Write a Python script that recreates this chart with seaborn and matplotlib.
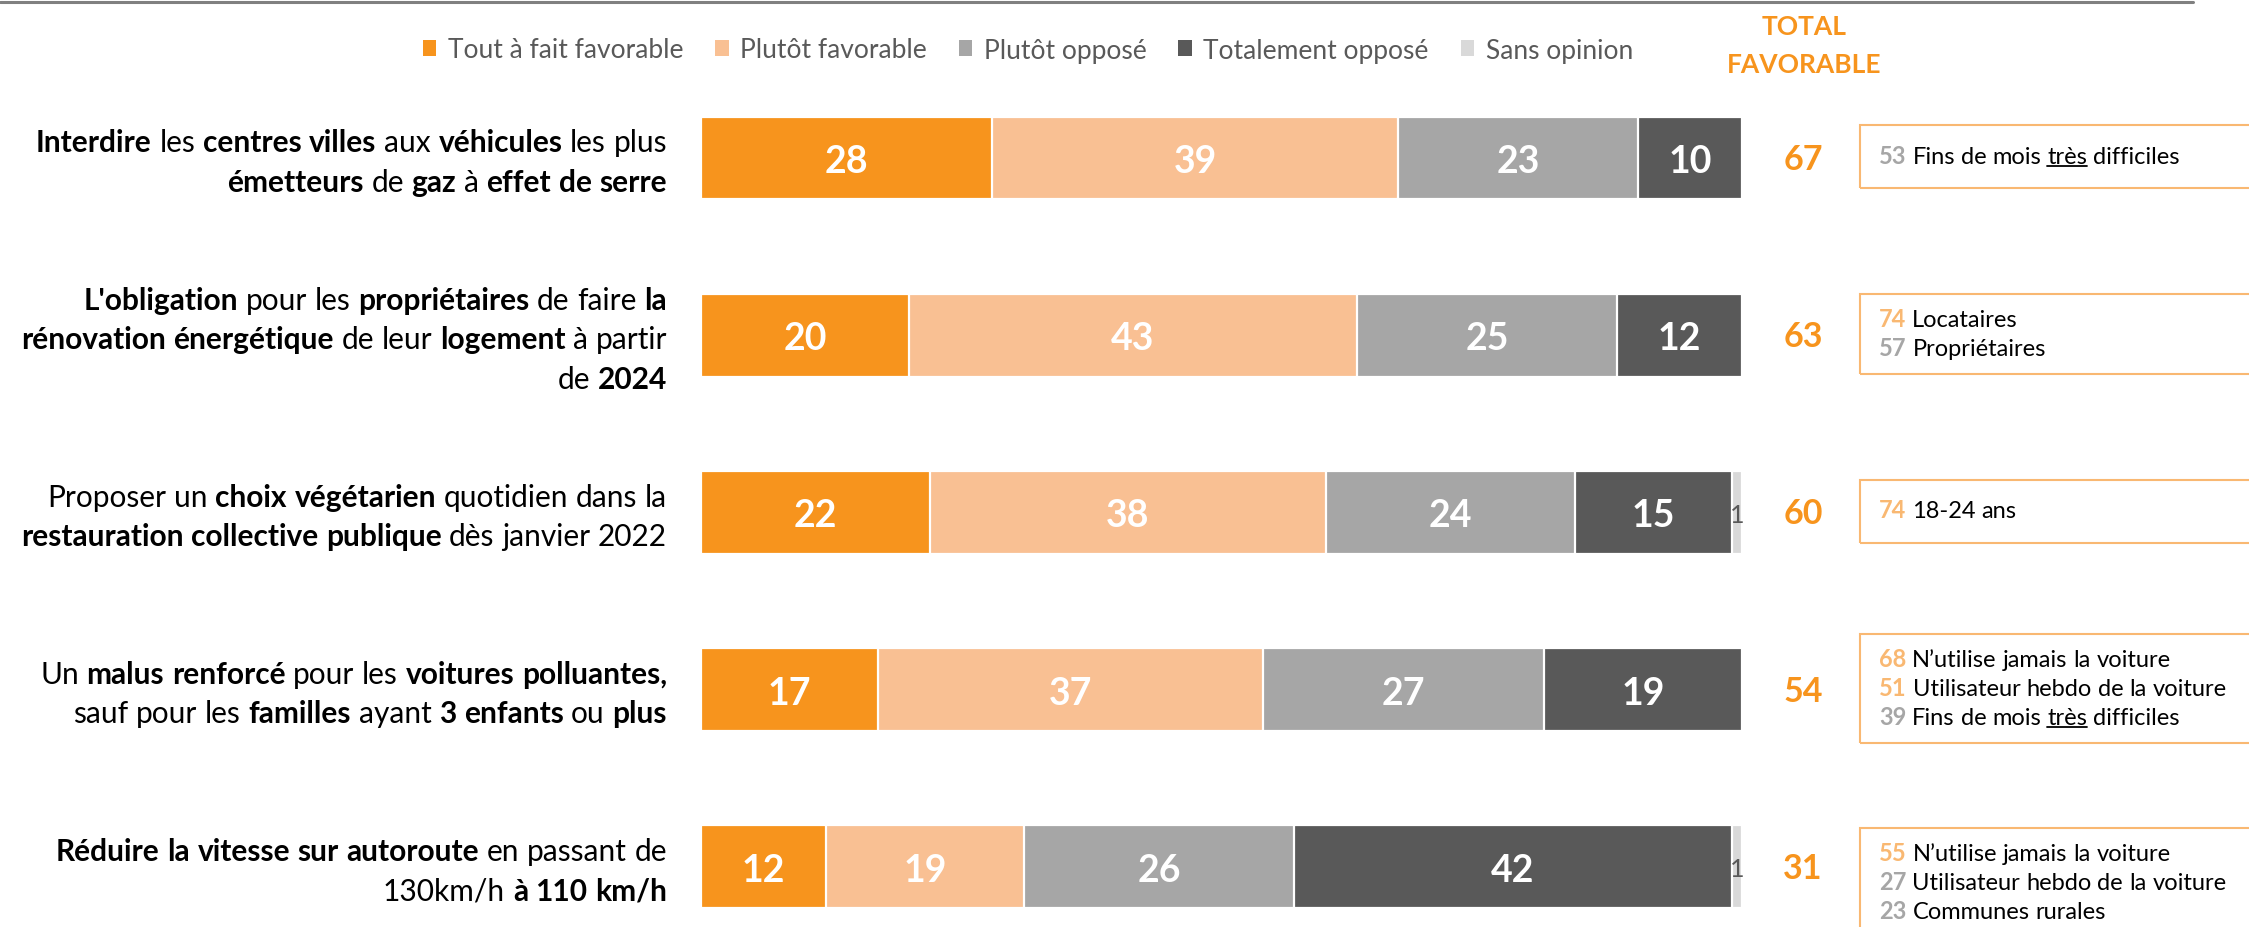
import re
import pandas as pd
import numpy as np

import matplotlib
matplotlib.use("Agg")
import matplotlib.pyplot as plt
import seaborn as sns
from matplotlib.patches import Patch, Rectangle
from matplotlib.lines import Line2D
from matplotlib.transforms import IdentityTransform


# ############################ -- DATA -- ############################
questions = ["Q1", "Q2", "Q3", "Q4", "Q5"]
# ** marks the bold words of each label line
question_labels = [
    ["**Interdire** les **centres villes** aux **véhicules** les plus",
     "**émetteurs** de **gaz** à **effet de serre**"],
    ["**L'obligation** pour les **propriétaires** de faire **la**",
     "**rénovation énergétique** de leur **logement** à partir",
     "de **2024**"],
    ["Proposer un **choix végétarien** quotidien dans la",
     "**restauration collective publique** dès janvier 2022"],
    ["Un **malus renforcé** pour les **voitures polluantes,**",
     "sauf pour les **familles** ayant **3 enfants** ou **plus**"],
    ["**Réduire la vitesse sur autoroute** en passant de",
     "130km/h **à 110 km/h**"],
]

answers = ["Tout à fait favorable", "Plutôt favorable", "Plutôt opposé",
           "Totalement opposé", "Sans opinion"]
tout_a_fait_favorable = [28, 20, 22, 17, 12]
plutot_favorable = [39, 43, 38, 37, 19]
plutot_oppose = [23, 25, 24, 27, 26]
totalement_oppose = [10, 12, 15, 19, 42]
sans_opinion = [0, 0, 1, 0, 1]
total_favorable = [67, 63, 60, 54, 31]

# sub-group boxes on the right (__ marks underlined words)
box_scores = [[53], [74, 57], [74], [68, 51, 39], [55, 27, 23]]
box_above = [[False], [True, False], [True], [True, True, False], [True, False, False]]
box_texts = [["Fins de mois __très__ difficiles"],
             ["Locataires", "Propriétaires"],
             ["18-24 ans"],
             ["N’utilise jamais la voiture", "Utilisateur hebdo de la voiture",
              "Fins de mois __très__ difficiles"],
             ["N’utilise jamais la voiture", "Utilisateur hebdo de  la voiture",
              "Communes rurales"]]

colors = ["#F7941D", "#F9C093", "#A6A6A6", "#595959", "#D9D9D9"]
ORANGE = "#F7941D"
PEACH = "#F9B872"
GREY_NUM = "#A6A6A6"

# ############################ -- LAYOUT -- ############################
W, H = 2249, 928
sns.set_theme(style="white")
plt.rcParams["font.family"] = ["Lato", "DejaVu Sans"]

fig = plt.figure(figsize=(W / 100, H / 100), dpi=100)
ax = fig.add_axes([701 / W, 0, 1041 / W, 1 - 70.4 / H])

# Build the table and the cumulative sums for the stacked bars
df = pd.DataFrame({"question": questions,
                   answers[0]: tout_a_fait_favorable,
                   answers[1]: plutot_favorable,
                   answers[2]: plutot_oppose,
                   answers[3]: totalement_oppose,
                   answers[4]: sans_opinion})
cum = df[answers].cumsum(axis=1)
cum["question"] = questions

# Paint the longest (cumulated) bars first, the shorter ones on top
for answer, color in reversed(list(zip(answers, colors))):
    sns.barplot(data=cum, x=answer, y="question", order=questions, orient="h",
                color=color, saturation=1, width=0.468,
                edgecolor="white", linewidth=1.6, ax=ax)

ax.set_xlim(0, 100)
ax.set_ylim(4.34, -0.5)
ax.axis("off")

# values in the segments
for i in range(len(questions)):
    left = 0
    for j, answer in enumerate(answers):
        v = df.loc[i, answer]
        if v > 0:
            if answer == "Sans opinion":
                ax.text(left + v / 2, i, str(v), ha="center", va="center_baseline",
                        color="#595959", fontsize=18)
            else:
                ax.text(left + v / 2, i, str(v), ha="center", va="center_baseline",
                        color="white", fontsize=27, fontweight="bold")
        left += v

# ############################ -- TEXT HELPERS -- ############################
renderer = fig.canvas.get_renderer()


def parse(line, color="black"):
    tokens = []
    pending = False
    for piece in re.split(r"(\*\*.*?\*\*|__.*?__)", line):
        if not piece:
            continue
        weight, under = "normal", False
        if piece.startswith("**"):
            weight, piece = "bold", piece[2:-2]
        elif piece.startswith("__"):
            under, piece = True, piece[2:-2]
        for k, w in enumerate(piece.split(" ")):
            if k > 0:
                pending = True
            if w == "":
                continue
            tokens.append((w, weight, color, under, pending and len(tokens) > 0))
            pending = False
    return tokens


def draw_tokens(tokens, x, y_base, size, ha="left"):
    # draw word by word so bold / normal can be mixed on one line
    probe = fig.text(0, 0, "a a", fontsize=size, transform=IdentityTransform())
    w2 = probe.get_window_extent(renderer).width
    probe.set_text("aa")
    space = w2 - probe.get_window_extent(renderer).width
    probe.remove()

    arts, widths = [], []
    for word, weight, color, under, sp in tokens:
        t = fig.text(0, y_base, word, fontsize=size, fontweight=weight, color=color,
                     va="baseline", ha="left", transform=IdentityTransform())
        arts.append(t)
        widths.append(t.get_window_extent(renderer).width)
    total = sum(widths) + space * sum(1 for tk in tokens if tk[4])
    xpos = x - total if ha == "right" else x
    for t, w, tk in zip(arts, widths, tokens):
        if tk[4]:
            xpos += space
        t.set_position((xpos, y_base))
        if tk[3]:
            fig.add_artist(Line2D([xpos, xpos + w], [y_base - 3, y_base - 3],
                                  color=tk[2], lw=1.3, transform=IdentityTransform()))
        xpos += w


def row_center(i):
    return ax.transData.transform((50, i))[1]


# ############################ -- LABELS, TOTALS, BOXES -- ############################
label_step = 39.5
box_step = 29
box_shift = [0, 0, 0, 0, 17]

for i, lines in enumerate(question_labels):
    yc = row_center(i)
    n = len(lines)
    for j, line in enumerate(lines):
        yb = yc - 13 - (j - (n - 1) / 2) * label_step
        draw_tokens(parse(line), 667, yb, 21.5, ha="right")

    # total favorable
    fig.text(1803, yc - 11, str(total_favorable[i]), transform=IdentityTransform(),
             ha="center", va="baseline", color=ORANGE, fontsize=24.5, fontweight="bold")

    # boxes with sub-groups
    n = len(box_texts[i])
    tc = yc - box_shift[i] + 2
    for j, (score, above, txt) in enumerate(zip(box_scores[i], box_above[i], box_texts[i])):
        yb = tc - 7 - (j - (n - 1) / 2) * box_step
        tokens = [(str(score), "bold", PEACH if above else GREY_NUM, False, False)]
        tokens += [(w, wt, c, u, True if k == 0 else sp)
                   for k, (w, wt, c, u, sp) in enumerate(parse(txt))]
        draw_tokens(tokens, 1879, yb, 17)
    h = box_step * n + (34 if n == 1 else 22)
    fig.add_artist(Rectangle((1860, tc - 1 - h / 2), 600, h, fill=False,
                             edgecolor=PEACH, lw=1.5, transform=IdentityTransform()))

# header
fig.text(1804 / W, 1 - 27 / H, "TOTAL", ha="center", va="center", color=ORANGE,
         fontsize=19, fontweight="bold")
fig.text(1804 / W, 1 - 65 / H, "FAVORABLE", ha="center", va="center", color=ORANGE,
         fontsize=19, fontweight="bold")

# legend
handles = [Patch(facecolor=c, edgecolor="none", label=a) for a, c in zip(answers, colors)]
fig.legend(handles=handles, loc="center", bbox_to_anchor=(1028 / W, 1 - 51 / H), ncol=5,
           frameon=False, fontsize=19, handlelength=0.5, handleheight=0.55,
           handletextpad=0.45, columnspacing=1.2, labelcolor="#595959",
           borderpad=0, borderaxespad=0)

# top rule
fig.add_artist(Line2D([0, 2193 / W], [1 - 3 / H, 1 - 3 / H], color="#808080", lw=2.2))

fig.savefig("out.png", dpi=100, facecolor="white")
